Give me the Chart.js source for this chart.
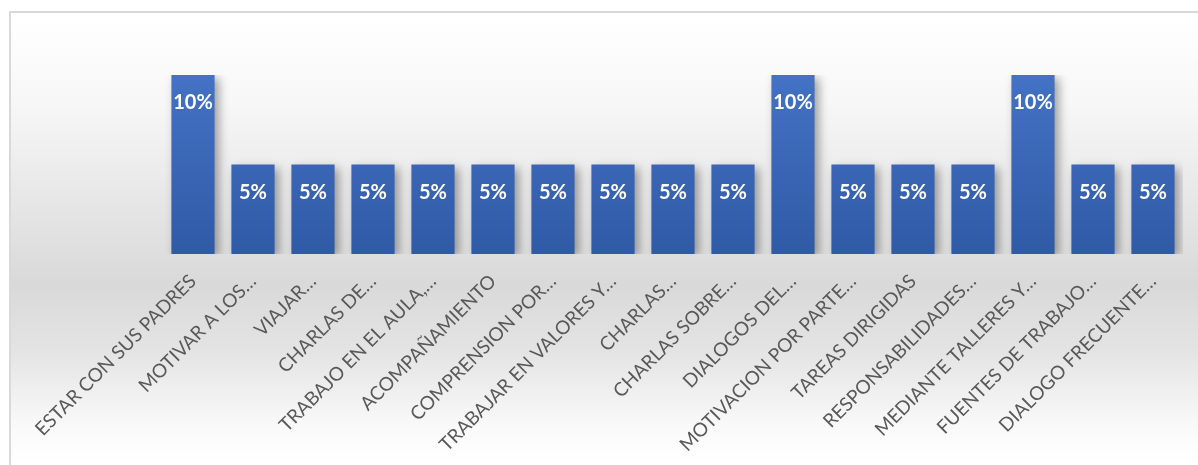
<!DOCTYPE html>
<html>
<head>
<meta charset="utf-8">
<script src="https://cdn.jsdelivr.net/npm/chart.js@4"></script>
<style>
  html, body { margin: 0; padding: 0; overflow: hidden; background: #fff; }
  #box {
    position: absolute; left: 9px; top: 11px;
    width: 1192px; height: 456px; box-sizing: border-box;
    border: 2px solid #d9d9d9;
    background: linear-gradient(to bottom, #ffffff 0%, #f7f7f7 20%, #e4e4e4 45%, #d9d9d9 60%, #e4e4e4 75%, #fafafa 92%, #ffffff 100%);
  }
  #wrap { position: relative; width: 1188px; height: 452px; }
</style>
</head>
<body>
<div id="box"><div id="wrap"><canvas id="chart"></canvas></div></div>
<script>
// categorías y valores (%)
var categorias = [
  "ESTAR CON SUS PADRES", "MOTIVAR A LOS…", "VIAJAR…", "CHARLAS DE…",
  "TRABAJO EN EL AULA,…", "ACOMPAÑAMIENTO", "COMPRENSION POR…",
  "TRABAJAR EN VALORES Y…", "CHARLAS…", "CHARLAS SOBRE…", "DIALOGOS DEL…",
  "MOTIVACION POR PARTE…", "TAREAS DIRIGIDAS", "RESPONSABILIDADES…",
  "MEDIANTE TALLERES Y…", "FUENTES DE TRABAJO…", "DIALOGO FRECUENTE…"
];
var porcentajes = [10, 5, 5, 5, 5, 5, 5, 5, 5, 5, 10, 5, 5, 5, 10, 5, 5];

// sombra de las barras
var sombra = {
  id: "sombra",
  beforeDatasetsDraw: function(chart) {
    var ctx = chart.ctx;
    ctx.save();
    ctx.shadowColor = "rgba(0,0,0,0.35)";
    ctx.shadowBlur = 9;
    ctx.shadowOffsetX = 4;
    ctx.shadowOffsetY = 3;
  },
  afterDatasetsDraw: function(chart) {
    chart.ctx.restore();
  }
};

// etiquetas de datos dentro de la barra
var etiquetas = {
  id: "etiquetas",
  afterDatasetsDraw: function(chart) {
    var ctx = chart.ctx;
    var meta = chart.getDatasetMeta(0);
    ctx.save();
    ctx.fillStyle = "#ffffff";
    ctx.font = "bold 20px Lato, 'Open Sans', sans-serif";
    ctx.textAlign = "center";
    ctx.textBaseline = "middle";
    meta.data.forEach(function(bar, i) {
      ctx.fillText(porcentajes[i] + "%", bar.x, bar.y + 28);
    });
    ctx.restore();
  }
};

var ctx = document.getElementById("chart").getContext("2d");
var chart = new Chart(ctx, {
  type: "bar",
  data: {
    labels: categorias,
    datasets: [{
      data: porcentajes,
      backgroundColor: function(c) {
        var area = c.chart.chartArea;
        if (!area) return "#4472c4";
        var g = c.chart.ctx.createLinearGradient(0, area.top, 0, area.bottom);
        g.addColorStop(0, "#4472c4");
        g.addColorStop(1, "#2f5aa6");
        return g;
      },
      borderWidth: 0,
      categoryPercentage: 1,
      barPercentage: 0.72
    }]
  },
  options: {
    responsive: true,
    maintainAspectRatio: false,
    animation: false,
    layout: { padding: { left: 152, right: 16, top: 62, bottom: 0 } },
    plugins: { legend: { display: false }, tooltip: { enabled: false } },
    scales: {
      x: {
        grid: { display: false },
        border: { display: false },
        ticks: {
          color: "#595959",
          font: { family: "Lato, 'Open Sans', sans-serif", size: 19 },
          minRotation: 45,
          maxRotation: 45,
          autoSkip: false,
          padding: 8
        },
        afterFit: function(scale) {
          scale.height = 211;
          scale.paddingLeft = 0;
          scale.paddingRight = 0;
        }
      },
      y: {
        display: false,
        min: 0,
        max: 10
      }
    }
  },
  plugins: [sombra, etiquetas]
});
</script>
</body>
</html>
